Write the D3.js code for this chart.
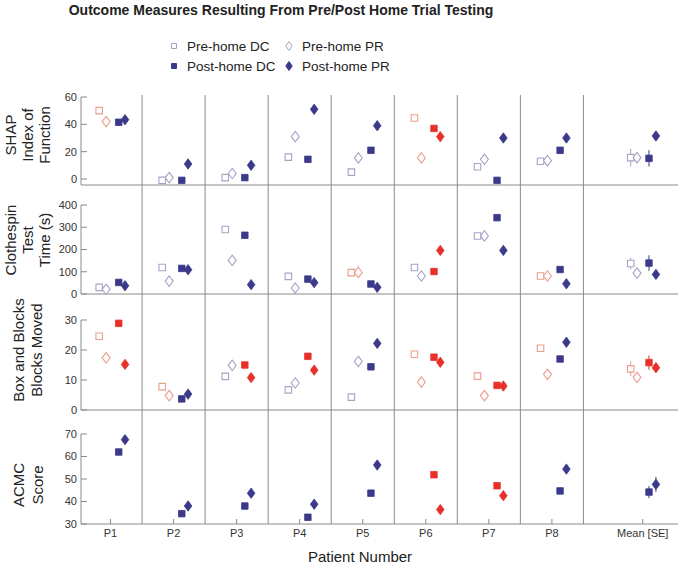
<!DOCTYPE html>
<html>
<head>
<meta charset="utf-8">
<script src="https://cdn.jsdelivr.net/npm/d3@7"></script>
<style>
  html, body { margin: 0; padding: 0; background: #fff; }
  svg { display: block; font-family: "Liberation Sans", Arial, Helvetica, sans-serif; }
</style>
</head>
<body>
<svg id="chart" width="685" height="567"></svg>
<script>
// ---------------- DATA ----------------
const patients = ["P1", "P2", "P3", "P4", "P5", "P6", "P7", "P8", "Mean [SE]"];
const patientPos = [1, 2, 3, 4, 5, 6, 7, 8, 9.44];

const seriesNames = ["Pre-home DC", "Pre-home PR", "Post-home DC", "Post-home PR"];

// SHAP Index of Function
const shapPreDC  = [50, -1, 1, 16, 5, 44.6, 9, 13, 15.6];
const shapPrePR  = [42, 1, 4, 31, 15.4, 15.4, 14.4, 13.4, 15.6];
const shapPostDC = [41.5, -1, 1, 14.4, 21, 37, -1, 21, 15.1];
const shapPostPR = [43.4, 11, 10, 51, 39, 31, 30, 30, 31.5];
const shapSE     = [6.5, 4, 6, 3];
const shapPreRed  = [1, 0, 0, 0, 0, 1, 0, 0, 0];
const shapPostRed = [0, 0, 0, 0, 0, 1, 0, 0, 0];

// Clothespin Test Time (s)
const clothPreDC  = [30, 119, 290, 79, 96, 119, 261, 81, 137];
const clothPrePR  = [21, 58, 151, 27, 97, 81, 261, 81, 94];
const clothPostDC = [52, 115, 264, 67, 45, 101, 343, 110, 139];
const clothPostPR = [37, 109, 42, 51, 30, 196, 196, 46, 88];
const clothSE     = [26, 15, 35, 15];
const clothPreRed  = [0, 0, 0, 0, 1, 0, 0, 1, 0];
const clothPostRed = [0, 0, 0, 0, 0, 1, 0, 0, 0];

// Box and Blocks, Blocks Moved
const boxPreDC  = [24.6, 7.8, 11.2, 6.7, 4.3, 18.6, 11.3, 20.6, 13.7];
const boxPrePR  = [17.4, 4.8, 14.9, 9, 16.2, 9.3, 4.8, 11.9, 10.9];
const boxPostDC = [28.9, 3.7, 15, 17.9, 14.4, 17.6, 8.2, 17, 15.8];
const boxPostPR = [15.2, 5.3, 10.8, 13.3, 22.2, 15.9, 8, 22.6, 14.1];
const boxSE     = [2.5, 1.5, 2.4, 1.5];
const boxPreRed  = [1, 1, 0, 0, 0, 1, 1, 1, 1];
const boxPostRed = [1, 0, 1, 1, 0, 1, 1, 0, 1];

// ACMC Score (post only)
const acmcPostDC = [62, 34.6, 38, 33, 43.7, 51.9, 47, 44.7, 44.2];
const acmcPostPR = [67.5, 38, 43.7, 38.8, 56.2, 36.4, 42.6, 54.4, 47.6];
const acmcSE     = [null, null, 2.7, 3.3];
const acmcPostRed = [0, 0, 0, 0, 0, 1, 1, 0, 0];

const shapTicks  = [0, 20, 40, 60];
const clothTicks = [0, 100, 200, 300, 400];
const boxTicks   = [0, 10, 20, 30];
const acmcTicks  = [30, 40, 50, 60, 70];

// ---------------- STYLE ----------------
const NAVY = "#3b3989";
const LIGHTBLUE = "#a4a4c6";
const RED = "#e8302a";
const SALMON = "#eb9d8e";
const AXIS = "#8a8a8a";
const TEXT = "#222";

const panels = [
  { label: ["SHAP", "Index of", "Function"], labelX: [10, 27, 44], labelY: 135,
    domain: [-4.4, 60], range: [185, 97], ticks: shapTicks,
    series: [shapPreDC, shapPrePR, shapPostDC, shapPostPR], se: shapSE,
    preRed: shapPreRed, postRed: shapPostRed },
  { label: ["Clothespin", "Test", "Time (s)"], labelX: [10, 27, 44], labelY: 240,
    domain: [0, 400], range: [294, 205], ticks: clothTicks,
    series: [clothPreDC, clothPrePR, clothPostDC, clothPostPR], se: clothSE,
    preRed: clothPreRed, postRed: clothPostRed },
  { label: ["Box and Blocks", "Blocks Moved"], labelX: [18, 36], labelY: 350,
    domain: [0, 30], range: [410, 320], ticks: boxTicks,
    series: [boxPreDC, boxPrePR, boxPostDC, boxPostPR], se: boxSE,
    preRed: boxPreRed, postRed: boxPostRed },
  { label: ["ACMC", "Score"], labelX: [18, 37], labelY: 485,
    domain: [30, 70], range: [524, 434], ticks: acmcTicks,
    series: [null, null, acmcPostDC, acmcPostPR], se: acmcSE,
    preRed: [0,0,0,0,0,0,0,0,0], postRed: acmcPostRed }
];

const offsets = [-0.18, -0.07, 0.13, 0.23];
const meanOffsets = [-0.19, -0.09, 0.1, 0.21];

// ---------------- DRAW ----------------
const svg = d3.select("#chart");
const x = d3.scaleLinear().domain([0.5, 10]).range([79, 678]);
const axisX0 = 81;

function squarePath(cx, cy, s) {
  const h = s / 2;
  return `M${cx - h},${cy - h}h${s}v${s}h${-s}Z`;
}
function diamondPath(cx, cy, w, hgt) {
  return `M${cx},${cy - hgt}L${cx + w},${cy}L${cx},${cy + hgt}L${cx - w},${cy}Z`;
}

// title
svg.append("text")
  .attr("x", 281).attr("y", 15)
  .attr("text-anchor", "middle")
  .attr("font-size", 14).attr("font-weight", "bold").attr("fill", TEXT)
  .text("Outcome Measures Resulting From Pre/Post Home Trial Testing");

// legend
const legend = svg.append("g");
const legItems = [
  { name: seriesNames[0], shape: "sq", filled: false, lx: 174, ly: 46 },
  { name: seriesNames[1], shape: "di", filled: false, lx: 289, ly: 46 },
  { name: seriesNames[2], shape: "sq", filled: true, lx: 174, ly: 66 },
  { name: seriesNames[3], shape: "di", filled: true, lx: 289, ly: 66 }
];
legItems.forEach(it => {
  const col = it.filled ? NAVY : LIGHTBLUE;
  legend.append("path")
    .attr("d", it.shape === "sq" ? squarePath(it.lx, it.ly, 5) : diamondPath(it.lx, it.ly, 3.2, 4.5))
    .attr("fill", it.filled ? col : "none")
    .attr("stroke", col).attr("stroke-width", 1);
  legend.append("text")
    .attr("x", it.lx + 13).attr("y", it.ly + 5)
    .attr("font-size", 13.5).attr("fill", TEXT)
    .text(it.name);
});

// vertical separators (through all panels)
const seps = d3.range(1.5, 9, 1);
svg.append("g").selectAll("line").data(seps).join("line")
  .attr("x1", d => x(d)).attr("x2", d => x(d))
  .attr("y1", 95).attr("y2", 524)
  .attr("stroke", AXIS).attr("stroke-width", 1);

panels.forEach((p, pi) => {
  const y = d3.scaleLinear().domain(p.domain).range(p.range);
  const g = svg.append("g");

  // bottom axis line
  g.append("line")
    .attr("x1", axisX0).attr("x2", x(10))
    .attr("y1", p.range[0]).attr("y2", p.range[0])
    .attr("stroke", AXIS).attr("stroke-width", 1);

  // y axis line (from top tick to bottom)
  g.append("line")
    .attr("x1", axisX0).attr("x2", axisX0)
    .attr("y1", y(p.ticks[p.ticks.length - 1])).attr("y2", p.range[0])
    .attr("stroke", AXIS).attr("stroke-width", 1);

  // y ticks
  const tg = g.append("g").selectAll("g").data(p.ticks).join("g");
  tg.append("line")
    .attr("x1", axisX0).attr("x2", axisX0 + 6)
    .attr("y1", d => y(d)).attr("y2", d => y(d))
    .attr("stroke", AXIS).attr("stroke-width", 1);
  tg.append("text")
    .attr("x", axisX0 - 4).attr("y", d => y(d))
    .attr("dy", "0.35em")
    .attr("text-anchor", "end")
    .attr("font-size", 11).attr("fill", "#333")
    .text(d => d);

  // y label
  const lab = g.append("g");
  p.label.forEach((t, i) => {
    lab.append("text")
      .attr("transform", `translate(${p.labelX[i]},${p.labelY}) rotate(-90)`)
      .attr("text-anchor", "middle")
      .attr("dominant-baseline", "central")
      .attr("font-size", 15).attr("fill", TEXT)
      .text(t);
  });

  // error bars for mean
  const mi = patients.length - 1;
  p.series.forEach((s, si) => {
    if (!s || p.se[si] == null) return;
    const isPre = si < 2;
    const red = isPre ? p.preRed[mi] : p.postRed[mi];
    const col = isPre ? (red ? SALMON : LIGHTBLUE) : (red ? RED : NAVY);
    const cx = x(patientPos[mi] + meanOffsets[si]);
    g.append("line")
      .attr("x1", cx).attr("x2", cx)
      .attr("y1", y(s[mi] - p.se[si])).attr("y2", y(s[mi] + p.se[si]))
      .attr("stroke", col).attr("stroke-width", 1);
  });

  // markers
  p.series.forEach((s, si) => {
    if (!s) return;
    const isPre = si < 2;
    const isSq = si % 2 === 0;
    s.forEach((v, i) => {
      const red = isPre ? p.preRed[i] : p.postRed[i];
      const col = isPre ? (red ? SALMON : LIGHTBLUE) : (red ? RED : NAVY);
      const off = (i === mi ? meanOffsets : offsets)[si];
      const cx = x(patientPos[i] + off);
      const cy = y(v);
      const d = isSq ? squarePath(cx, cy, 6.5)
                     : (isPre ? diamondPath(cx, cy, 4, 5.2) : diamondPath(cx, cy, 3.8, 5.2));
      g.append("path")
        .attr("d", d)
        .attr("fill", isPre ? "#fff" : col)
        .attr("stroke", col)
        .attr("stroke-width", isPre ? 1.1 : 0.8);
    });
  });
});

// x ticks & labels on bottom panel
const bottomY = 524;
const xt = svg.append("g").selectAll("g").data(patients).join("g");
xt.append("line")
  .attr("x1", (d, i) => x(patientPos[i])).attr("x2", (d, i) => x(patientPos[i]))
  .attr("y1", bottomY).attr("y2", bottomY - 5)
  .attr("stroke", AXIS).attr("stroke-width", 1);
xt.append("text")
  .attr("x", (d, i) => x(patientPos[i])).attr("y", 537)
  .attr("text-anchor", "middle")
  .attr("font-size", 11).attr("fill", "#333")
  .text(d => d);

svg.append("text")
  .attr("x", 360).attr("y", 562)
  .attr("text-anchor", "middle")
  .attr("font-size", 15).attr("fill", TEXT)
  .text("Patient Number");
</script>
</body>
</html>
